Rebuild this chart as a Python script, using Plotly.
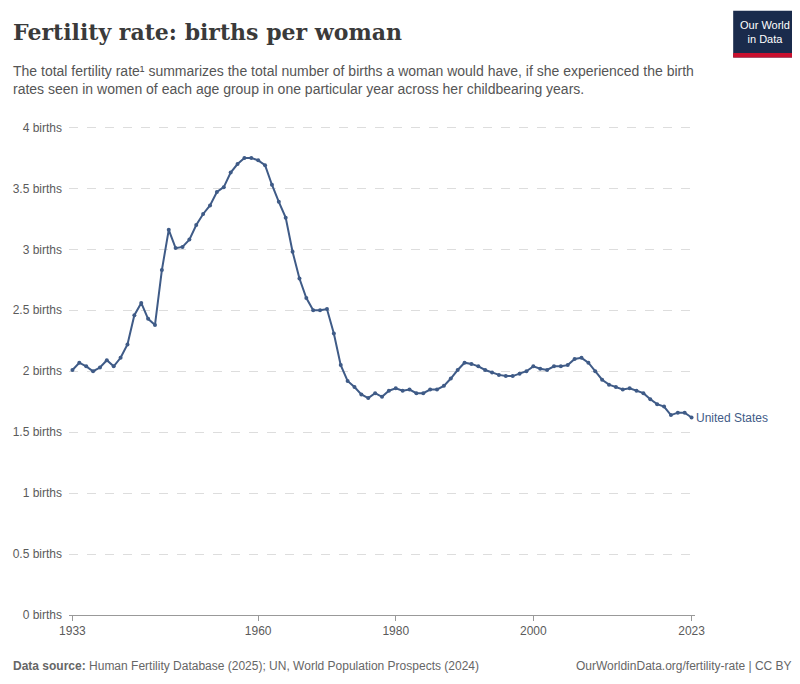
import plotly.graph_objects as go

years = list(range(1933, 2024))
fertility = [2.01, 2.07, 2.04, 2.00, 2.03, 2.09, 2.04, 2.11, 2.22, 2.46,
             2.56, 2.43, 2.38, 2.83, 3.16, 3.01, 3.02, 3.08, 3.20, 3.29,
             3.36, 3.47, 3.51, 3.63, 3.70, 3.75, 3.75, 3.73, 3.69, 3.53,
             3.39, 3.26, 2.98, 2.76, 2.60, 2.50, 2.50, 2.51, 2.31, 2.05,
             1.92, 1.87, 1.81, 1.78, 1.82, 1.79, 1.84, 1.86, 1.84, 1.85,
             1.82, 1.82, 1.85, 1.85, 1.88, 1.94, 2.01, 2.07, 2.06, 2.04,
             2.01, 1.99, 1.97, 1.96, 1.96, 1.98, 2.00, 2.04, 2.02, 2.01,
             2.04, 2.04, 2.05, 2.10, 2.11, 2.07, 2.00, 1.93, 1.89, 1.87,
             1.85, 1.86, 1.84, 1.82, 1.77, 1.73, 1.71, 1.64, 1.66, 1.66,
             1.62]
y_ticks = [0, 0.5, 1, 1.5, 2, 2.5, 3, 3.5, 4]
y_labels = ["0 births", "0.5 births", "1 births", "1.5 births", "2 births",
            "2.5 births", "3 births", "3.5 births", "4 births"]
x_ticks = [1933, 1960, 1980, 2000, 2023]

line_color = "#3f5b87"
fig = go.Figure()
fig.add_trace(go.Scatter(x=years, y=fertility, mode="lines+markers",
                         line=dict(color=line_color, width=2),
                         marker=dict(size=4, color=line_color), showlegend=False))
fig.add_annotation(x=years[-1], y=fertility[-1], text="United States", showarrow=False,
                   xanchor="left", xshift=2, font=dict(size=12, color=line_color))

fig.update_layout(
    width=800, height=684, plot_bgcolor="white", paper_bgcolor="white",
    margin=dict(l=61, r=113, t=117, b=77, autoexpand=False),
    font=dict(family="Liberation Sans, Arial", color="#5b5b5b", size=12),
)
fig.update_xaxes(range=[1932.5, 2023.5], tickvals=x_ticks, showgrid=False, automargin=False,
                 showline=True, linecolor="#999", ticks="outside", tickcolor="#999",
                 ticklen=5, tickfont=dict(size=12, color="#5b5b5b"))
fig.update_yaxes(range=[0, 4.02], tickvals=y_ticks, ticktext=y_labels, showgrid=True,
                 gridcolor="#dddddd", griddash="dash", zeroline=False, automargin=False,
                 tickfont=dict(size=12, color="#5b5b5b"), ticklabelstandoff=6)

# title, subtitle, footer
fig.add_annotation(xref="paper", yref="paper", x=-0.092, y=1.22, xanchor="left", yanchor="top",
                   text="<b>Fertility rate: births per woman</b>", showarrow=False,
                   font=dict(family="Georgia, DejaVu Serif, serif", size=22, color="#3a3a3a"))
fig.add_annotation(xref="paper", yref="paper", x=-0.092, y=1.13, xanchor="left", yanchor="top",
                   align="left", showarrow=False, font=dict(size=14, color="#555"),
                   text="The total fertility rate¹ summarizes the total number of births a woman would have, if she experienced the birth<br>rates seen in women of each age group in one particular year across her childbearing years.")
fig.add_annotation(xref="paper", yref="paper", x=-0.092, y=-0.085, xanchor="left", yanchor="top",
                   showarrow=False, font=dict(size=12, color="#666"),
                   text="<b>Data source:</b> Human Fertility Database (2025); UN, World Population Prospects (2024)")
fig.add_annotation(xref="paper", yref="paper", x=1.158, y=-0.085, xanchor="right", yanchor="top",
                   showarrow=False, font=dict(size=12, color="#666"),
                   text="OurWorldinData.org/fertility-rate | CC BY")
# logo
fig.add_shape(type="rect", xref="paper", yref="paper", x0=1.061, x1=1.163, y0=1.138, y1=1.233,
              fillcolor="#1a2b4c", line_width=0)
fig.add_shape(type="rect", xref="paper", yref="paper", x0=1.061, x1=1.163, y0=1.138, y1=1.147,
              fillcolor="#c8102e", line_width=0)
fig.add_annotation(xref="paper", yref="paper", x=1.112, y=1.19, xanchor="center", yanchor="middle",
                   showarrow=False, text="Our World<br>in Data",
                   font=dict(size=11, color="white"))

fig.write_html("out.html")
